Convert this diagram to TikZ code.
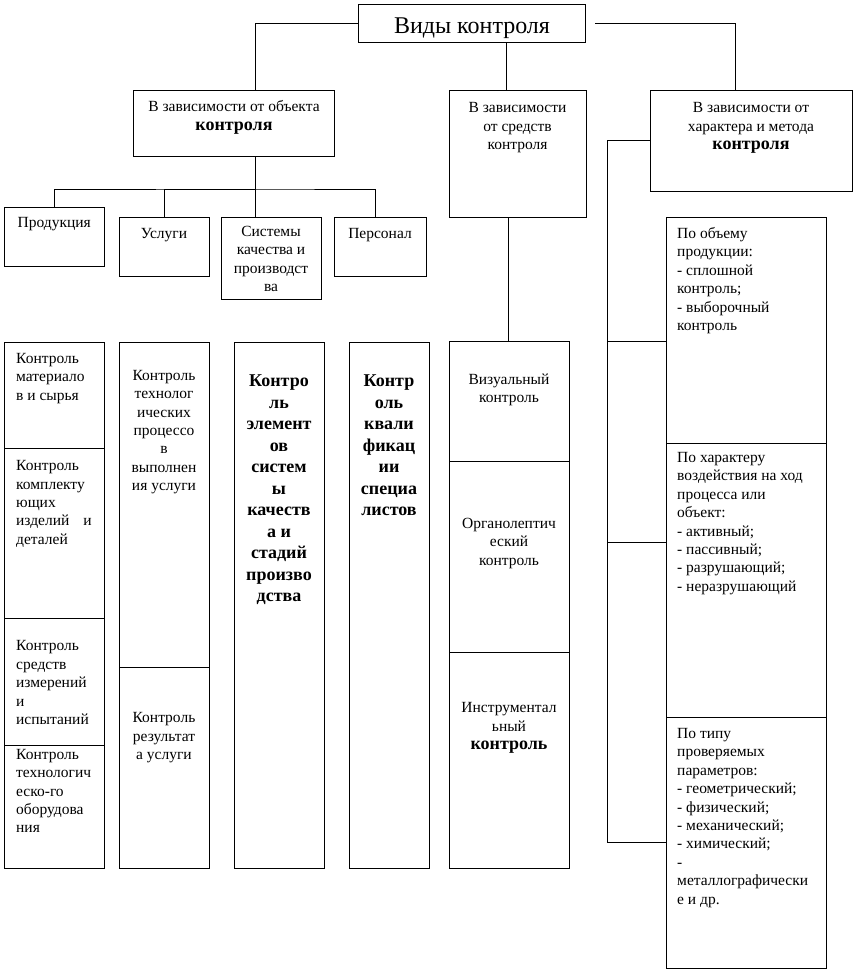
\documentclass[tikz,border=0pt]{standalone}
\usepackage{fontspec}
\setmainfont{Liberation Serif}
\newcommand{\bigb}{\bfseries\fontsize{18}{19}\selectfont}
\newcommand{\fs}{\rule{0pt}{18pt}}
\begin{document}
\begin{tikzpicture}[x=1pt,y=-1pt,
  box/.style 2 args={draw, line width=0.9pt, inner sep=0pt, outer sep=0pt, anchor=north west, minimum width=#1, minimum height=#2},
  line/.style={draw, line width=0.9pt},
  txt/.style={font=\fontsize{15.5}{18.4}\selectfont, inner sep=0pt, align=center, anchor=north, yshift=18pt},
  txtl/.style={font=\fontsize{15.5}{18.4}\selectfont, inner sep=0pt, align=left, anchor=north west, yshift=18pt},
  btxt/.style={font=\bfseries\fontsize{18}{21.5}\selectfont, inner sep=0pt, align=center, anchor=north, yshift=18pt},
  ttl/.style={font=\fontsize{24}{28}\selectfont, inner sep=0pt, anchor=base}]
\fill[white] (0,0) rectangle (858,972);
\useasboundingbox (0,0) rectangle (858,972);
% boxes
\node[box={227pt}{38pt}] (title) at (358,4) {};
\node[box={201pt}{66pt}] (objB) at (133,90) {};
\node[box={137pt}{127pt}] (srB) at (449,90) {};
\node[box={202pt}{101pt}] (harB) at (650,90) {};
\node[box={100pt}{59pt}] (prod) at (4,207) {};
\node[box={90pt}{59pt}] (usl) at (119,217) {};
\node[box={100pt}{82pt}] (sys) at (221,217) {};
\node[box={92pt}{59pt}] (pers) at (334,217) {};
\node[box={100pt}{106pt}] (c1a) at (4,342) {};
\node[box={100pt}{170pt}] (c1b) at (4,448) {};
\node[box={100pt}{127pt}] (c1c) at (4,618) {};
\node[box={100pt}{123pt}] (c1d) at (4,745) {};
\node[box={90pt}{325pt}] (c2a) at (119,342) {};
\node[box={90pt}{201pt}] (c2b) at (119,667) {};
\node[box={90pt}{526pt}] (c3) at (234,342) {};
\node[box={80pt}{526pt}] (c4) at (349,342) {};
\node[box={120pt}{120pt}] (m1) at (449,341) {};
\node[box={120pt}{191pt}] (m2) at (449,461) {};
\node[box={120pt}{216pt}] (m3) at (449,652) {};
\node[box={160pt}{226pt}] (r1) at (666,217) {};
\node[box={160pt}{274pt}] (r2) at (666,443) {};
\node[box={160pt}{251pt}] (r3) at (666,717) {};
% connectors
\coordinate (bus) at (255,189);
\draw[line] (title.west) -| ([xshift=21.5pt]objB.north);
\draw[line] ([xshift=34.5pt]title.south) -- ([xshift=-11.5pt]srB.north);
\draw[line] ([xshift=10pt]title.east) -| ([xshift=-16pt]harB.north);
\draw[line] ([xshift=21.5pt]objB.south) -- ([xshift=-16pt]sys.north);
\draw[line] (prod.north) |- (bus) -| ([xshift=-4.5pt]pers.north);
\draw[line] (usl.north) |- (bus);
\draw[line] ([xshift=-9.5pt]srB.south) -- ([xshift=-1pt]m1.north);
\draw[line] (harB.west) -| ([xshift=-59pt]r3.west) -- (r3.west);
\draw[line] ([yshift=-11pt]r1.west) -- ++(-59,0);
\draw[line] ([yshift=38pt]r2.west) -- ++(-59,0);
% texts
\node[ttl] (t-title) at (472,33.3) {Виды контроля};
\node[txt, font=\fontsize{15.5}{19}\selectfont] (t-obj) at (234,111.7) {\fs В зависимости от объекта\\{\bigb контроля}};
\node[txt] (t-sr) at (517.5,112.7) {\fs В зависимости\\от средств\\контроля};
\node[txt] (t-har) at (751,112.7) {\fs В зависимости от\\характера и метода\\{\bigb контроля}};
\node[txt] (t-prod) at (54.3,227.7) {\fs Продукция};
\node[txt] (t-usl) at (164,238) {\fs Услуги};
\node[txt] (t-sys) at (271,236) {\fs Системы\\качества и\\производст\\ва};
\node[txt] (t-pers) at (380,238) {\fs Персонал};
\node[txtl] (t-c1a) at (16,363.3) {\fs Контроль\\материало\\в и сырья};
\node[txtl] (t-c1b) at (16,470.5) {\fs Контроль\\комплекту\\ющих\\изделий\hspace{14pt}и\\деталей};
\node[txtl] (t-c1c) at (16,650.7) {\fs Контроль\\средств\\измерений\\и\\испытаний};
\node[txtl] (t-c1d) at (16,759) {\fs Контроль\\технологич\\еско-го\\оборудова\\ния};
\node[txt] (t-c2a) at (164,380) {\fs Контроль\\технолог\\ических\\процессо\\в\\выполнен\\ия услуги};
\node[txt] (t-c2b) at (164,722.7) {\fs Контроль\\результат\\а услуги};
\node[btxt] (t-c3) at (279,386.7) {\fs Контро\\ль\\элемент\\ов\\систем\\ы\\качеств\\а и\\стадий\\произво\\дства};
\node[btxt] (t-c4) at (389,386.7) {\fs Контр\\оль\\квали\\фикац\\ии\\специа\\листов};
\node[txt] (t-m1) at (509,384.3) {\fs Визуальный\\контроль};
\node[txt] (t-m2) at (509,528.3) {\fs Органолептич\\еский\\контроль};
\node[txt] (t-m3) at (509,712.7) {\fs Инструментал\\ьный\\{\bigb контроль}};
\node[txtl] (t-r1) at (677,238.3) {\fs По объему\\продукции:\\- сплошной\\контроль;\\- выборочный\\контроль};
\node[txtl] (t-r2) at (677,462.3) {\fs По характеру\\воздействия на ход\\процесса или\\объект:\\- активный;\\- пассивный;\\- разрушающий;\\- неразрушающий};
\node[txtl] (t-r3) at (677,738.3) {\fs По типу\\проверяемых\\параметров:\\- геометрический;\\- физический;\\- механический;\\- химический;\\-\\металлографически\\е и др.};
\end{tikzpicture}
\end{document}
